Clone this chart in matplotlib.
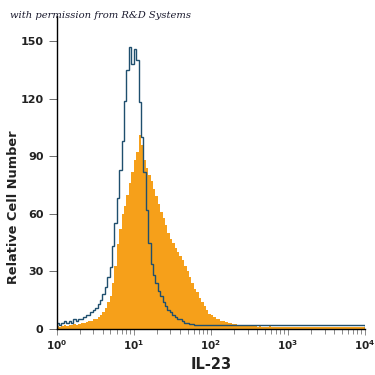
"""
Flow cytometry histogram: IL-23 staining vs isotype control.
"""

import matplotlib
matplotlib.use("Agg")
import matplotlib.pyplot as plt
import numpy as np

# 128 channels over four decades (1/32 decade each)
n_bins = 128
edges = np.logspace(0, 4, n_bins + 1)

# isotype control (outline)
isotype = [
    3, 2, 3, 4, 3, 4, 3, 5, 4, 5, 5, 6, 7, 7, 9, 10,
    11, 13, 15, 18, 22, 27, 32, 43, 55, 68, 83, 98, 119, 135, 147, 138,
    146, 140, 118, 100, 82, 62, 45, 34, 28, 24, 20, 17, 14, 12, 10, 9,
    7, 6, 5, 5, 4, 3, 3, 2.5, 2.5, 2, 2, 2, 2, 2, 2, 2,
] + [2] * 64

# IL-23 antibody (filled)
il23 = [
    1.5, 1, 1.5, 2, 1.5, 2, 2, 2.5, 2, 2.5, 3, 3, 3.5, 4, 4, 5,
    5, 6, 7, 9, 11, 14, 17, 24, 33, 44, 52, 60, 64, 70, 76, 82,
    88, 92, 101, 96, 88, 84, 80, 77, 73, 69, 65, 61, 58, 54, 50, 47,
    45, 42, 40, 38, 36, 33, 30, 27, 24, 21, 19, 16, 14, 12, 10, 8,
    7, 6, 5, 5, 4, 4, 3.5, 3, 3, 2.5, 2.5, 2, 2, 2, 1.5, 1.5,
    1.5, 1.5, 1.5, 1, 1.5, 1, 1, 1, 1.5, 1, 1, 1, 1, 1, 1, 1,
] + [1] * 32

y_ticks = [0, 30, 60, 90, 120, 150]

orange = "#F6A01A"
line_blue = "#1F4F6E"

fig = plt.figure(figsize=(3.75, 3.75), dpi=100)
ax = fig.add_axes([0.151, 0.123, 0.822, 0.834])

ax.stairs(il23, edges, fill=True, color=orange, linewidth=0)
ax.stairs(isotype, edges, fill=False, color=line_blue, linewidth=1.0)

ax.set_xscale("log")
ax.set_xlim(1, 1e4)
ax.set_ylim(0, 163)
ax.set_yticks(y_ticks)

ax.spines["top"].set_visible(False)
ax.spines["right"].set_visible(False)
ax.spines["left"].set_linewidth(1.0)
ax.spines["bottom"].set_linewidth(1.0)

ax.tick_params(axis="y", direction="out", length=6, width=0.6, colors="#555555",
               labelcolor="#222222", labelsize=8)
ax.tick_params(axis="x", which="major", direction="out", length=4, width=0.6,
               colors="#777777", labelcolor="#222222", labelsize=7.5, pad=3)
ax.tick_params(axis="x", which="minor", direction="out", length=3.5, width=0.6,
               colors="#777777")
for lab in ax.get_yticklabels():
    lab.set_fontweight("bold")
for lab in ax.get_xticklabels():
    lab.set_fontweight("bold")

ax.set_xlabel("IL-23", fontsize=10.5, fontweight="bold", color="#222222", labelpad=3)
ax.set_ylabel("Relative Cell Number", fontsize=9.3, fontweight="bold",
              color="#222222")
ax.yaxis.set_label_coords(-0.12, 0.39)

fig.text(0.027, 0.958, "with permission from R&D Systems", fontsize=7.2,
         family="DejaVu Serif", style="italic", color="#1a1a2e", va="center")

plt.savefig("out.png", dpi=100)
